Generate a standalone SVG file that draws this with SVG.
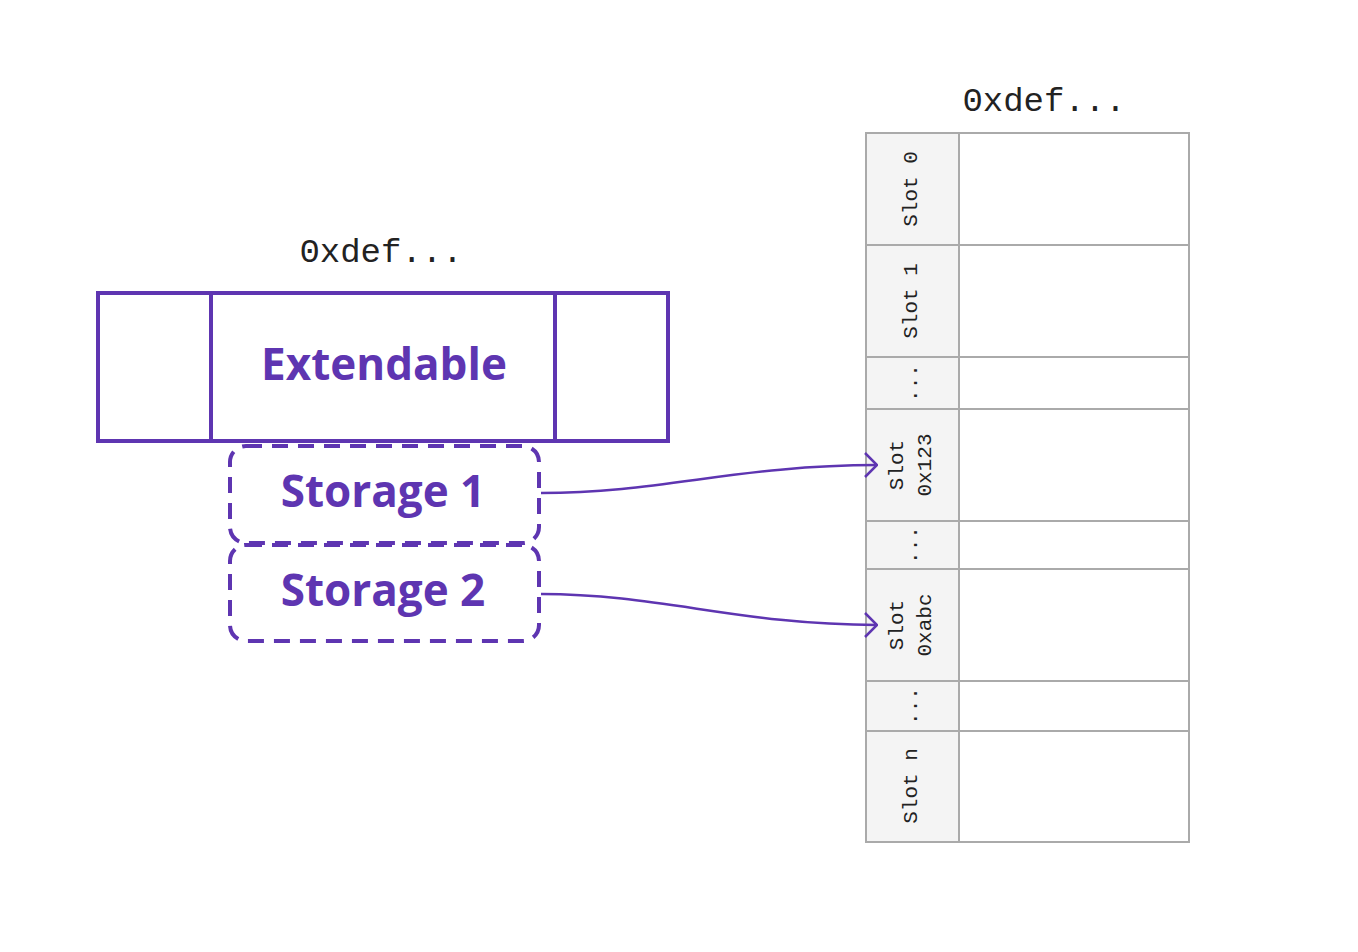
<svg xmlns="http://www.w3.org/2000/svg" width="1358" height="952" viewBox="0 0 1358 952">
<defs>
<style>
.title{font-family:"Liberation Mono","DejaVu Sans Mono",monospace;font-size:34px;fill:#222;text-anchor:middle}
.slot{font-family:"Liberation Mono","DejaVu Sans Mono",monospace;font-size:21px;fill:#222;text-anchor:middle;dominant-baseline:central}
.big{font-family:"Open Sans","Noto Sans",sans-serif;font-weight:700;font-size:44px;fill:#5e35b1;text-anchor:middle}
.frame{fill:#fff;stroke:#5e35b1;stroke-width:4}
.dash{fill:none;stroke:#5e35b1;stroke-width:4;stroke-dasharray:16 10}
.cell{fill:#fff;stroke:#aaa;stroke-width:2}
.lab{fill:#f4f4f4;stroke:#aaa;stroke-width:2}
.conn{fill:none;stroke:#5e35b1;stroke-width:2.5}
</style>
<marker id="arr" viewBox="0 0 14 26" refX="13" refY="13" markerWidth="14" markerHeight="26" markerUnits="userSpaceOnUse" orient="auto">
<path d="M1,1 L13,13 L1,25" fill="none" stroke="#5e35b1" stroke-width="2.5"/>
</marker>
</defs>
<rect width="1358" height="952" fill="#fff"/>

<g id="extendable">
<text class="title" x="381" y="262">0xdef...</text>
<rect class="frame" x="98" y="293" width="570" height="148"/>
<line x1="211" y1="293" x2="211" y2="441" stroke="#5e35b1" stroke-width="4"/>
<line x1="555" y1="293" x2="555" y2="441" stroke="#5e35b1" stroke-width="4"/>
<text class="big" x="384" y="380">Extendable</text>
</g>

<g id="storage1">
<rect class="dash" x="230" y="446" width="309" height="97" rx="16"/>
<text class="big" x="383" y="507">Storage 1</text>
</g>

<g id="storage2">
<rect class="dash" x="230" y="545" width="309" height="96" rx="16"/>
<text class="big" x="383" y="606">Storage 2</text>
</g>

<g id="storage-table">
<text class="title" x="1044" y="111">0xdef...</text>
<rect class="lab" x="866" y="133" width="93" height="112"/><rect class="cell" x="959" y="133" width="230" height="112"/>
<rect class="lab" x="866" y="245" width="93" height="112"/><rect class="cell" x="959" y="245" width="230" height="112"/>
<rect class="lab" x="866" y="357" width="93" height="52"/><rect class="cell" x="959" y="357" width="230" height="52"/>
<rect class="lab" x="866" y="409" width="93" height="112"/><rect class="cell" x="959" y="409" width="230" height="112"/>
<rect class="lab" x="866" y="521" width="93" height="48"/><rect class="cell" x="959" y="521" width="230" height="48"/>
<rect class="lab" x="866" y="569" width="93" height="112"/><rect class="cell" x="959" y="569" width="230" height="112"/>
<rect class="lab" x="866" y="681" width="93" height="50"/><rect class="cell" x="959" y="681" width="230" height="50"/>
<rect class="lab" x="866" y="731" width="93" height="111"/><rect class="cell" x="959" y="731" width="230" height="111"/>
<text class="slot" transform="translate(911,189) rotate(-90)">Slot 0</text>
<text class="slot" transform="translate(911,301) rotate(-90)">Slot 1</text>
<text class="slot" transform="translate(911,383) rotate(-90)">...</text>
<text class="slot" transform="translate(897,465) rotate(-90)">Slot</text>
<text class="slot" transform="translate(925,465) rotate(-90)">0x123</text>
<text class="slot" transform="translate(911,545) rotate(-90)">...</text>
<text class="slot" transform="translate(897,625) rotate(-90)">Slot</text>
<text class="slot" transform="translate(925,625) rotate(-90)">0xabc</text>
<text class="slot" transform="translate(911,706) rotate(-90)">...</text>
<text class="slot" transform="translate(911,786) rotate(-90)">Slot n</text>
</g>

<g id="connectors">
<path class="conn" d="M541,493 C660,493 740,465 877,465" marker-end="url(#arr)"/>
<path class="conn" d="M541,594 C660,594 740,625 877,625" marker-end="url(#arr)"/>
</g>
</svg>
